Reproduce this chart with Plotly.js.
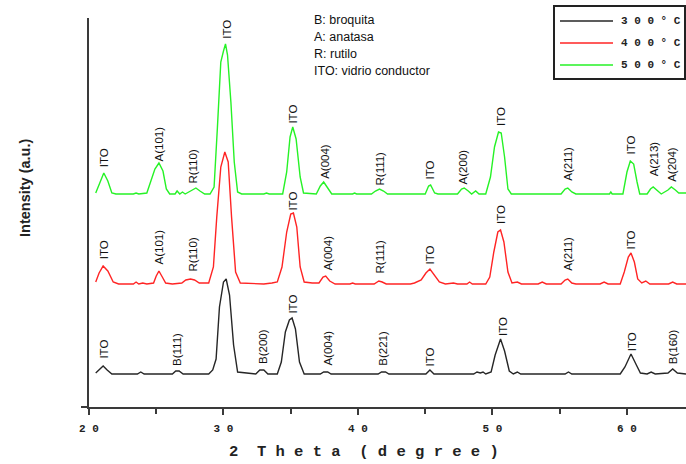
<!DOCTYPE html>
<html><head><meta charset="utf-8">
<script src="https://cdn.plot.ly/plotly-3.0.1.min.js"></script>
<style>html,body{margin:0;padding:0;background:#fff}#chart{width:686px;height:464px}</style>
</head><body><div id="chart"></div>
<script>
// ---------- data (2 theta in degrees, intensity in arbitrary units) ----------
const seriesNames = ['3 0 0 ° C', '4 0 0 ° C', '5 0 0 ° C'];

const x300 = [20.5, 20.8, 21.05, 21.35, 21.7,
  23.6, 23.85, 24.1,
  26.2, 26.45, 26.7, 27.0,
  28.9, 29.2, 29.45, 29.7, 30.0, 30.2, 30.45, 30.75, 31.05,
  32.4, 32.7, 33.0, 33.3,
  34.0, 34.3, 34.6, 34.9, 35.1, 35.35, 35.65, 36.0,
  37.2, 37.45, 37.75, 38.0,
  41.5, 41.75, 42.05, 42.3,
  45.05, 45.35, 45.65,
  48.6, 48.85, 49.1, 49.3, 49.5,
  49.9, 50.2, 50.6, 50.9, 51.25, 51.55, 51.85, 52.1,
  55.4, 55.65, 55.9,
  59.5, 59.85, 60.3, 60.7, 61.0,
  61.5, 61.8, 62.1,
  63.05, 63.4, 63.75, 64.39];
const y300 = [34, 38, 41, 37, 33,
  33, 35, 33,
  33, 36, 36, 33,
  33, 37, 48, 100, 125, 128, 112, 62, 35,
  33, 37, 37, 33,
  33, 45, 75, 87, 89, 78, 45, 33,
  33, 35, 35, 33,
  33, 35, 35, 33,
  33, 37, 33,
  33, 35, 34, 35, 33,
  35, 52, 68, 56, 36, 33, 35, 33,
  33, 35, 33,
  33, 40, 53, 42, 34,
  33, 35, 33,
  34, 38, 34, 33];

const x400 = [20.5, 20.75, 21.05, 21.4, 21.8, 22.2,
  23.3, 23.5, 23.7, 24.0, 24.3,
  24.8, 25.0, 25.2, 25.45, 25.7, 26.2,
  26.9, 27.2, 27.55, 27.85, 28.2,
  28.9, 29.25, 29.5, 29.8, 30.1, 30.35, 30.6, 30.9, 31.25,
  33.0, 33.6, 34.0, 34.35, 34.7, 35.0, 35.2, 35.45, 35.7, 36.0,
  36.6, 37.1, 37.4, 37.6, 37.9, 38.3,
  39.4, 39.6, 39.8,
  41.2, 41.55, 41.8, 42.1,
  43.9, 44.2, 44.7, 45.05, 45.35, 45.65, 46.05, 46.5,
  47.1, 47.4, 48.1, 48.3, 48.5,
  49.5, 49.8, 50.1, 50.4, 50.6, 50.85, 51.15, 51.45, 51.85, 52.15,
  53.4, 53.7, 54.0,
  55.1, 55.4, 55.6, 55.9, 56.2,
  58.0, 58.3, 58.6,
  59.5, 59.8, 60.1, 60.3, 60.55, 60.8, 61.1, 61.4, 61.7,
  63.1, 63.4, 63.7, 64.39];
const y400 = [125, 134, 141, 136, 125, 123,
  123, 125, 123, 124, 123,
  124, 131, 136, 130, 124, 123,
  124, 127, 128, 127, 124,
  124, 140, 190, 240, 255, 245, 190, 135, 124,
  123, 124, 125, 140, 175, 193, 194, 180, 140, 125,
  124, 124, 130, 131, 126, 123,
  123, 124, 123,
  123, 126, 125, 123,
  123, 124, 127, 134, 138, 132, 125, 123,
  124, 123, 123, 125, 123,
  123, 130, 155, 175, 177, 165, 135, 124, 125, 123,
  123, 125, 123,
  123, 127, 128, 124, 123,
  123, 125, 123,
  123, 135, 150, 154, 145, 128, 124, 126, 123,
  123, 125, 123, 123];

const x500 = [20.5, 20.8, 21.1, 21.4, 21.7, 22.0,
  23.3, 23.5, 23.7,
  24.3, 24.6, 24.9, 25.2, 25.5, 25.75, 26.0,
  26.4, 26.55, 26.75, 26.95, 27.15,
  27.6, 27.95, 28.25, 28.6,
  29.0, 29.3, 29.55, 29.8, 30.0, 30.15, 30.3, 30.55, 30.8, 31.05, 31.35,
  33.0, 33.2, 33.4,
  34.4, 34.7, 34.95, 35.15, 35.4, 35.7, 35.95,
  36.9, 37.2, 37.45, 37.7, 38.05,
  39.6, 39.75, 39.9,
  41.0, 41.3, 41.6, 41.9, 42.2,
  45.0, 45.25, 45.4, 45.7, 45.95,
  47.4, 47.7, 47.9, 48.2, 48.45, 48.75, 49.0,
  49.5, 49.85, 50.15, 50.45, 50.65, 50.9, 51.15, 51.4,
  55.1, 55.4, 55.6, 55.9, 56.2,
  58.7, 58.8, 58.9,
  59.7, 60.0, 60.25, 60.5, 60.75, 60.95,
  61.5, 61.75, 61.95, 62.25, 62.55, 63.05, 63.3, 63.6, 63.85, 64.39];
const y500 = [214, 225, 234, 226, 214, 213,
  213, 214, 213,
  214, 225, 238, 244, 236, 218, 213,
  213, 216, 213, 215, 213,
  216, 219, 216, 213,
  213, 220, 280, 345, 356, 363, 352, 305, 245, 215, 213,
  213, 214, 213,
  213, 235, 270, 280, 268, 230, 214,
  213, 221, 225, 220, 213,
  213, 214, 213,
  213, 216, 218, 216, 213,
  213, 221, 222, 214, 213,
  213, 218, 219, 216, 213, 216, 213,
  213, 230, 260, 275, 274, 250, 218, 213,
  213, 218, 219, 215, 213,
  213, 215, 213,
  213, 235, 246, 243, 225, 213,
  213, 218, 220, 216, 213, 217, 220, 217, 214, 214];

// peak labels: text, 2 theta, intensity at label foot
const labels300 = ['ITO', 'B(111)', 'B(200)', 'ITO', 'A(004)', 'B(221)', 'ITO', 'ITO', 'ITO', 'B(160)'];
const labelX300 = [21.05, 26.5, 32.9, 35.1, 37.7, 41.8, 45.35, 50.75, 60.35, 63.4];
const labelY300 = [47, 40, 42, 92, 40, 40, 40, 70, 55, 42];

const labels400 = ['ITO', 'A(101)', 'R(110)', 'ITO', 'A(004)', 'R(111)', 'ITO', 'ITO', 'A(211)', 'ITO'];
const labelX400 = [21.1, 25.2, 27.7, 35.1, 37.7, 41.6, 45.35, 50.6, 55.6, 60.3];
const labelY400 = [147, 142, 134, 195, 135, 132, 142, 182, 135, 157];

const labels500 = ['ITO', 'A(101)', 'R(110)', 'ITO', 'ITO', 'A(004)', 'R(111)', 'ITO', 'A(200)', 'ITO', 'A(211)', 'ITO', 'A(213)', 'A(204)'];
const labelX500 = [21.1, 25.2, 27.7, 30.2, 35.1, 37.5, 41.6, 45.35, 47.8, 50.6, 55.6, 60.3, 62.0, 63.3];
const labelY500 = [239, 245, 222, 367, 282, 227, 220, 227, 222, 280, 225, 252, 230, 224];

const xTickVals = [20, 30, 40, 50, 60];
const xTickText = ['2 0', '3 0', '4 0', '5 0', '6 0'];
const xMinorVals = [25, 35, 45, 55];
const noteLines = ['B: broquita', 'A: anatasa', 'R: rutilo', 'ITO: vidrio conductor'];
const xTitle = '2  T h e t a  ( d e g r e e )';
const yTitle = 'Intensity (a.u.)';

// ---------- styling / layout ----------
const colors = ['#262626', '#ff2424', '#26f226'];
const L = 89, T = 18, PW = 597, PH = 389;
const px = v => (v - L) / PW;
const py = v => (T + PH - v) / PH;

const series = [[x300, y300], [x400, y400], [x500, y500]];
const traces = series.map((s, i) => ({
  x: s[0], y: s[1], type: 'scatter', mode: 'lines', name: seriesNames[i],
  line: {color: colors[i], width: 1.4}, showlegend: false, hoverinfo: 'skip'
}));

const annotations = [];
const labelFont = {family: 'Liberation Sans, Arial, sans-serif', size: 11.5, color: '#111'};
[[labels300, labelX300, labelY300], [labels400, labelX400, labelY400], [labels500, labelX500, labelY500]]
  .forEach(g => g[0].forEach((t, j) => annotations.push({
    text: t, x: g[1][j], y: g[2][j], xref: 'x', yref: 'y', textangle: -90,
    xanchor: 'center', yanchor: 'bottom', showarrow: false, font: labelFont, borderpad: 0
  })));

const noteY = [20, 37, 54, 71];
noteLines.forEach((t, i) => annotations.push({
  text: t, x: px(312), y: py(noteY[i]), xref: 'paper', yref: 'paper', xanchor: 'left', yanchor: 'middle',
  showarrow: false, font: {family: 'Liberation Sans, Arial, sans-serif', size: 12.5, color: '#111'}
}));

const legY = [21, 43, 65];
const shapes = [{
  type: 'rect', xref: 'paper', yref: 'paper', x0: px(554), x1: px(685), y0: py(79), y1: py(6),
  line: {color: '#222', width: 2}, fillcolor: 'rgba(0,0,0,0)'
}];
seriesNames.forEach((n, i) => {
  shapes.push({type: 'line', xref: 'paper', yref: 'paper', x0: px(560), x1: px(613), y0: py(legY[i]), y1: py(legY[i]),
    line: {color: colors[i], width: 1.6}});
  annotations.push({text: '<b>' + n + '</b>', x: px(619), y: py(legY[i]), xref: 'paper', yref: 'paper',
    xanchor: 'left', yanchor: 'middle', showarrow: false,
    font: {family: 'Liberation Mono, Courier New, monospace', size: 11, color: '#222'}});
});

annotations.push({text: '<b>' + xTitle + '</b>', x: px(364), y: py(452), xref: 'paper', yref: 'paper',
  xanchor: 'center', yanchor: 'middle', showarrow: false,
  font: {family: 'Liberation Mono, Courier New, monospace', size: 15.5, color: '#222'}});
annotations.push({text: '<b>' + yTitle + '</b>', x: px(25), y: py(188), xref: 'paper', yref: 'paper',
  xanchor: 'center', yanchor: 'middle', textangle: -90, showarrow: false,
  font: {family: 'Liberation Sans, Arial, sans-serif', size: 14.5, color: '#222'}});

const axCol = '#3a3a3a';
const layout = {
  width: 686, height: 464,
  margin: {l: L, r: 0, t: T, b: 464 - T - PH, pad: 0},
  paper_bgcolor: '#fff', plot_bgcolor: '#fff',
  showlegend: false,
  xaxis: {
    range: [20, 64.39], showgrid: false, zeroline: false, showline: true, linecolor: axCol, linewidth: 2,
    ticks: 'outside', ticklen: 6, tickwidth: 2, tickcolor: axCol,
    tickmode: 'array', tickvals: xTickVals, ticktext: xTickText.map(t => '<b>' + t + '</b>'),
    tickfont: {family: 'Liberation Mono, Courier New, monospace', size: 11, color: '#222'},
    ticklabelstandoff: 4,
    minor: {tickmode: 'array', tickvals: xMinorVals, ticks: 'outside', ticklen: 5, tickwidth: 2, tickcolor: axCol, showgrid: false}
  },
  yaxis: {
    range: [0, PH], showgrid: false, zeroline: false, showline: true, linecolor: axCol, linewidth: 2,
    ticks: 'outside', ticklen: 6, tickwidth: 2, tickcolor: axCol, tickmode: 'array', tickvals: [0],
    showticklabels: false
  },
  annotations: annotations,
  shapes: shapes
};

Plotly.newPlot('chart', traces, layout, {staticPlot: true, displayModeBar: false});
</script>
</body></html>
